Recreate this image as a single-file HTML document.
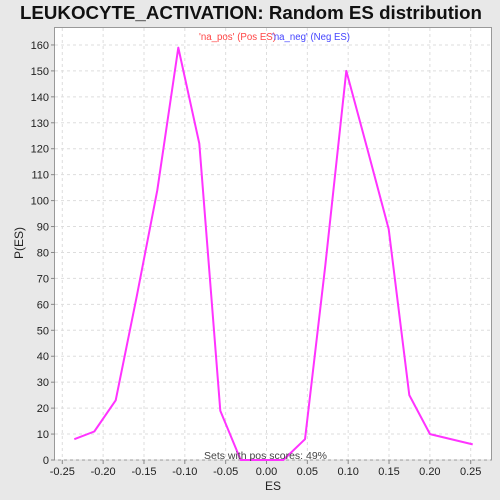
<!DOCTYPE html>
<html><head><meta charset="utf-8"><style>
html,body{margin:0;padding:0;background:#e8e8e8;}
svg{display:block;font-family:"Liberation Sans","DejaVu Sans",sans-serif;}
</style></head><body>
<svg id="chart" width="500" height="500" viewBox="0 0 500 500">
<rect x="0" y="0" width="500" height="500" fill="#e8e8e8"/>
<text x="20" y="19" textLength="462" lengthAdjust="spacingAndGlyphs" font-size="18" font-weight="bold" fill="#111">LEUKOCYTE_ACTIVATION: Random ES distribution</text>
<rect x="54.5" y="27.5" width="437" height="432.5" fill="#fff" stroke="#999"/>
<g id="grid"></g><g id="axes"></g><g id="series"></g>
<text x="199" y="40" textLength="77" lengthAdjust="spacingAndGlyphs" font-size="10" fill="#ff4444">'na_pos' (Pos ES)</text>
<text x="272" y="40" textLength="78" lengthAdjust="spacingAndGlyphs" font-size="10" fill="#4444ff">'na_neg' (Neg ES)</text>
<text x="204" y="459" textLength="123" lengthAdjust="spacingAndGlyphs" font-size="10" fill="#444">Sets with pos scores: 49%</text>
<text x="273" y="490" text-anchor="middle" font-size="12" fill="#222">ES</text>
<text transform="translate(23,243) rotate(-90)" text-anchor="middle" font-size="12" fill="#222">P(ES)</text>
</svg>
<script>
const xTicks=[-0.25,-0.20,-0.15,-0.10,-0.05,0.00,0.05,0.10,0.15,0.20,0.25];
const xTickLabels=["-0.25","-0.20","-0.15","-0.10","-0.05","0.00","0.05","0.10","0.15","0.20","0.25"];
const yTicks=[0,10,20,30,40,50,60,70,80,90,100,110,120,130,140,150,160];
const esValues=[-0.2353,-0.2108,-0.1846,-0.1589,-0.1337,-0.108,-0.0823,-0.0566,-0.0316,-0.006,0.0206,0.0471,0.072,0.0977,0.1234,0.1496,0.1748,0.2002,0.2524];
const pValues=[8,11,23,63,104,159,122,19,0,0,0,8,75,150,120,89,25,10,6];
const NS="http://www.w3.org/2000/svg";
const xs=v=>266.5+v*816.8;
const ys=v=>460-v*2.594;
function mk(t,a,p){const e=document.createElementNS(NS,t);for(const k in a)e.setAttribute(k,a[k]);p.appendChild(e);return e;}
const grid=document.getElementById('grid'),axes=document.getElementById('axes'),series=document.getElementById('series');
xTicks.forEach((v,i)=>{
 const g=mk('line',{x1:xs(v),x2:xs(v),y1:28,y2:460,stroke:'#ddd','stroke-dasharray':'3,3'},grid);
 
 
 const t=mk('line',{x1:xs(v),x2:xs(v),y1:460,y2:464,stroke:'#888'},axes);
 
 
 const l=mk('text',{x:xs(v),y:475,'text-anchor':'middle','font-size':'11',fill:'#222'},axes);
 l.textContent=xTickLabels[i];
 
 
});
yTicks.forEach(v=>{
 const g=mk('line',{x1:55,x2:491,y1:ys(v),y2:ys(v),stroke:'#ddd','stroke-dasharray':'3,3'},grid);
 
 
 const t=mk('line',{x1:51,x2:55,y1:ys(v),y2:ys(v),stroke:'#888'},axes);
 
 
 const l=mk('text',{x:49,y:ys(v)+4,'text-anchor':'end','font-size':'11',fill:'#222'},axes);
 l.textContent=String(v);
 
 
});
const pts=esValues.map((v,i)=>xs(v).toFixed(1)+','+ys(pValues[i]).toFixed(1)).join(' ');
const pl=mk('polyline',{points:pts,fill:'none',stroke:'#ff33ff','stroke-width':'2','stroke-linejoin':'round'},series);


</script>
</body></html>
